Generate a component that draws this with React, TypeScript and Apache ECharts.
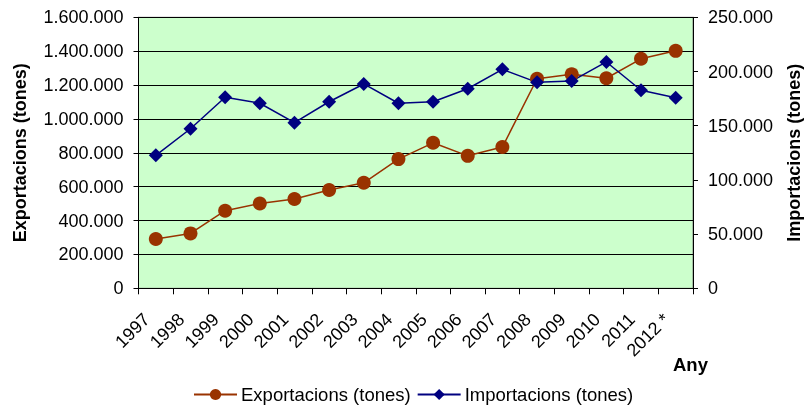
import React, { useEffect, useRef } from "react";
import * as echarts from "echarts";

const years = ["1997", "1998", "1999", "2000", "2001", "2002", "2003", "2004", "2005", "2006", "2007", "2008", "2009", "2010", "2011", "2012 *"];
const exportacions = [291000, 324000, 458000, 501000, 527000, 580000, 623000, 763000, 859000, 782000, 834000, 1237000, 1264000, 1240000, 1355000, 1402000];
const importacions = [122700, 147200, 176200, 170700, 152800, 172100, 188500, 170700, 172100, 184100, 202000, 190000, 191200, 208800, 182700, 175800];
const leftTicks = { min: 0, max: 1600000, interval: 200000 };
const rightTicks = { min: 0, max: 250000, interval: 50000 };

const FONT = "'Liberation Sans', Arial, sans-serif";
const fmt = (v: number) => String(v).replace(/\B(?=(\d{3})+(?!\d))/g, ".");

export default function App() {
  const ref = useRef<HTMLDivElement>(null);
  useEffect(() => {
    document.body.style.margin = "0";
    const chart = echarts.init(ref.current!, null, { renderer: "svg" });
    chart.setOption({
      animation: false,
      textStyle: { fontFamily: FONT },
      grid: {
        left: 138.5,
        right: 117,
        top: 17.3,
        bottom: 116.7,
        show: true,
        backgroundColor: "#CCFFCC",
        borderColor: "#808080",
        borderWidth: 1,
      },
      legend: {
        left: 188,
        top: 380,
        itemWidth: 43,
        itemHeight: 14,
        itemGap: 6,
        textStyle: { fontSize: 18.5, color: "#000", fontFamily: FONT, padding: [0, 0, 0, -1] },
        data: ["Exportacions (tones)", "Importacions (tones)"],
      },
      xAxis: {
        type: "category",
        data: years,
        boundaryGap: true,
        axisLine: { lineStyle: { color: "#000", width: 1 } },
        axisTick: { show: true, length: 6, lineStyle: { color: "#000" } },
        axisLabel: {
          rotate: 45,
          fontSize: 18,
          color: "#000",
          margin: 19,
          padding: [0, 13, 0, 0],
          fontFamily: FONT,
          interval: 0,
        },
      },
      yAxis: [
        {
          type: "value",
          min: leftTicks.min,
          max: leftTicks.max,
          interval: leftTicks.interval,
          name: "Exportacions (tones)",
          nameLocation: "middle",
          nameGap: 110,
          nameTextStyle: { fontSize: 18, fontWeight: "bold", color: "#000", fontFamily: FONT },
          axisLine: { show: true, lineStyle: { color: "#000" } },
          axisTick: { show: true, length: 5, lineStyle: { color: "#000" } },
          axisLabel: { fontSize: 18, color: "#000", margin: 15, formatter: fmt, fontFamily: FONT },
          splitLine: { show: true, lineStyle: { color: "#000", width: 1 } },
        },
        {
          type: "value",
          position: "right",
          min: rightTicks.min,
          max: rightTicks.max,
          interval: rightTicks.interval,
          name: "Importacions (tones)",
          nameLocation: "middle",
          nameGap: 92,
          nameRotate: 90,
          nameTextStyle: { fontSize: 18, fontWeight: "bold", color: "#000", fontFamily: FONT },
          axisLine: { show: true, lineStyle: { color: "#000" } },
          axisTick: { show: true, length: 5, lineStyle: { color: "#000" } },
          axisLabel: { fontSize: 18, color: "#000", margin: 15, formatter: fmt, fontFamily: FONT },
          splitLine: { show: false },
        },
      ],
      graphic: [
        {
          type: "text",
          left: 673,
          top: 355,
          style: { text: "Any", fontSize: 18.5, fontWeight: "bold", fill: "#000", fontFamily: FONT },
        },
      ],
      series: [
        {
          name: "Exportacions (tones)",
          type: "line",
          yAxisIndex: 0,
          data: exportacions,
          symbol: "circle",
          symbolSize: 14,
          itemStyle: { color: "#993300" },
          lineStyle: { color: "#993300", width: 1.5 },
        },
        {
          name: "Importacions (tones)",
          type: "line",
          yAxisIndex: 1,
          data: importacions,
          symbol: "diamond",
          symbolSize: 14,
          itemStyle: { color: "#000080" },
          lineStyle: { color: "#000080", width: 1.5 },
        },
      ],
    });
    return () => chart.dispose();
  }, []);
  return <div ref={ref} style={{ position: "fixed", left: 0, top: 0, width: 811, height: 405 }} />;
}
